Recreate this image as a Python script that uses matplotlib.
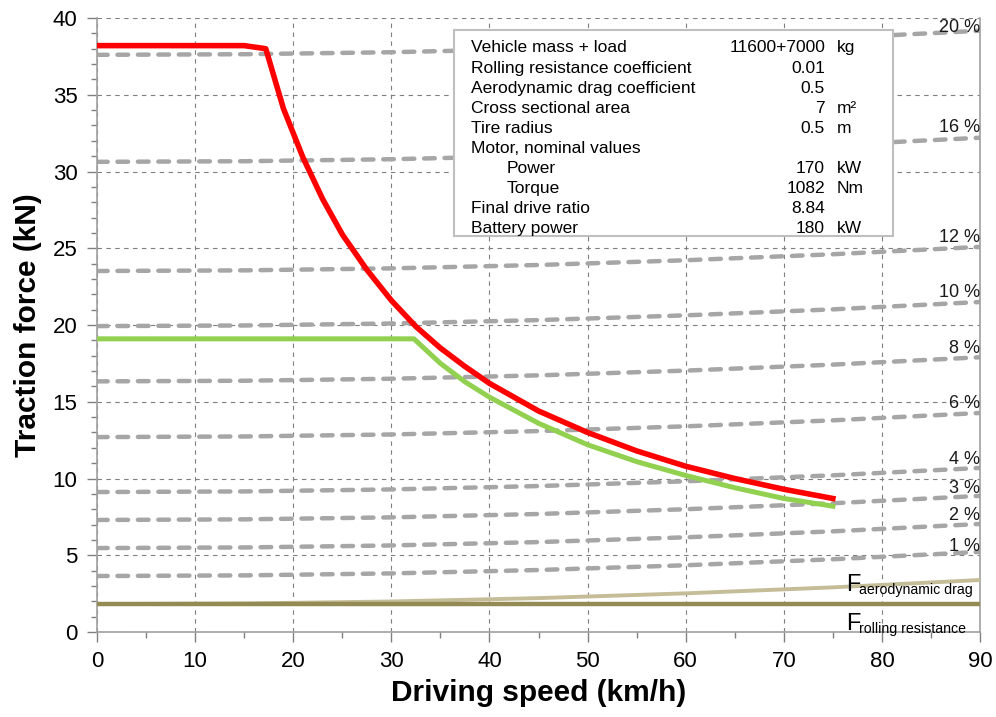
import numpy as np
import matplotlib.pyplot as plt
from matplotlib.patches import Rectangle
from matplotlib.ticker import MultipleLocator

plt.rcParams['font.family'] = ['Liberation Sans', 'DejaVu Sans']

# Driving resistances read at a few speeds (km/h -> kN)
speed_grid = np.array([0, 15, 30, 45, 60, 75, 90])
rolling_res = np.array([1.82, 1.82, 1.82, 1.82, 1.82, 1.82, 1.82])
aero_total = np.array([1.82, 1.86, 1.99, 2.21, 2.52, 2.91, 3.39])

# Road gradients and their resistance at standstill (kN)
grade_pct = [1, 2, 3, 4, 6, 8, 10, 12, 16, 20]
grade_base = [3.65, 5.47, 7.30, 9.12, 12.70, 16.33, 19.93, 23.52, 30.63, 37.60]
label_lift = [0.35, 0.55, 0.45, 0.55, 0.6, 0.6, 0.6, 0.6, 0.65, 0.2]

# Traction force available: battery power limit (red) and motor nominal (green)
red_speed = [0, 15, 17.2, 19, 21, 23, 25, 27.5, 30, 32.5, 35, 37.5, 40,
             45, 50, 55, 60, 65, 70, 75]
red_force = [38.2, 38.2, 38.0, 34.1, 30.9, 28.2, 25.9, 23.6, 21.6, 19.9,
             18.5, 17.3, 16.2, 14.4, 13.0, 11.8, 10.8, 10.0, 9.3, 8.7]
green_speed = [0, 32.3, 35, 37.5, 40, 45, 50, 55, 60, 65, 70, 75]
green_force = [19.1, 19.1, 17.5, 16.3, 15.3, 13.6, 12.2, 11.1, 10.2, 9.4, 8.7, 8.2]

# Vehicle parameter table
param_names = ['Vehicle mass + load', 'Rolling resistance coefficient',
               'Aerodynamic drag coefficient', 'Cross sectional area',
               'Tire radius', 'Motor, nominal values', 'Power', 'Torque',
               'Final drive ratio', 'Battery power']
param_values = ['11600+7000', '0.01', '0.5', '7', '0.5', '', '170', '1082',
                '8.84', '180']
param_units = ['kg', '', '', 'm²', 'm', '', 'kW', 'Nm', '', 'kW']
param_indent = [False, False, False, False, False, False, True, True, False, False]

fig = plt.figure(figsize=(9.96, 7.17), dpi=100)
ax = fig.add_axes([0.0974, 0.1185, 0.8866, 0.8564])

ax.set_xlim(0, 90)
ax.set_ylim(0, 40)

ax.grid(True, which='major', color='#7f7f7f', lw=0.8, ls=(0, (4, 4)), zorder=0)
ax.set_axisbelow(True)

# gradient resistance lines
aero_extra = aero_total - aero_total[0]
for pct, base, lift in zip(grade_pct, grade_base, label_lift):
    y = base + aero_extra
    ax.plot(speed_grid, y, color='#a6a6a6', lw=3.2, dashes=(2.4, 2.2),
            dash_capstyle='round', zorder=2)
    ax.text(90, y[-1] + lift, f'{pct} %', ha='right', va='center',
            fontsize=13, color='#1a1a1a', zorder=6, clip_on=False)

ax.plot(speed_grid, aero_total, color='#c4bd97', lw=2.8, zorder=3)
ax.plot(speed_grid, rolling_res, color='#948a54', lw=3.2, zorder=3)

# force labels with subscripts
for y_base, sub in [(2.35, 'aerodynamic drag'), (-0.2, 'rolling resistance')]:
    ax.text(76.4, y_base, 'F', fontsize=17, ha='left', va='bottom', zorder=6)
    ax.text(77.7, y_base - 0.05, sub, fontsize=10.2, ha='left', va='bottom', zorder=6)

ax.plot(green_speed, green_force, color='#92d050', lw=3.6, zorder=4,
        solid_joinstyle='round')
ax.plot(red_speed, red_force, color='#ff0000', lw=4.0, zorder=5,
        solid_joinstyle='round')

# parameter box
ax.add_patch(Rectangle((36.4, 25.8), 44.7, 13.4, facecolor='white',
                       edgecolor='#bfbfbf', lw=1.5, zorder=7))
row_y = 38.05
for name, val, unit, ind in zip(param_names, param_values, param_units, param_indent):
    ax.text(41.7 if ind else 38.1, row_y, name, fontsize=12.5, va='center',
            ha='left', zorder=8)
    ax.text(74.2, row_y, val, fontsize=12.5, va='center', ha='right', zorder=8)
    ax.text(75.4, row_y, unit, fontsize=12.5, va='center', ha='left', zorder=8)
    row_y -= 1.31

ax.xaxis.set_major_locator(MultipleLocator(10))
ax.xaxis.set_minor_locator(MultipleLocator(5))
ax.yaxis.set_major_locator(MultipleLocator(5))
ax.yaxis.set_minor_locator(MultipleLocator(1))
ax.tick_params(which='major', direction='out', length=7, width=1,
               color='#808080', labelsize=16, pad=7)
ax.tick_params(which='minor', direction='out', length=4, width=1,
               color='#808080')

for side in ['left', 'bottom', 'right']:
    ax.spines[side].set_color('#a0a0a0')
    ax.spines[side].set_linewidth(1.2)
ax.spines['top'].set_visible(False)

ax.set_xlabel('Driving speed (km/h)', fontsize=21.5, fontweight='bold', labelpad=5)
ax.set_ylabel('Traction force (kN)', fontsize=21.5, fontweight='bold', labelpad=8)

fig.savefig('out.png', dpi=100)
